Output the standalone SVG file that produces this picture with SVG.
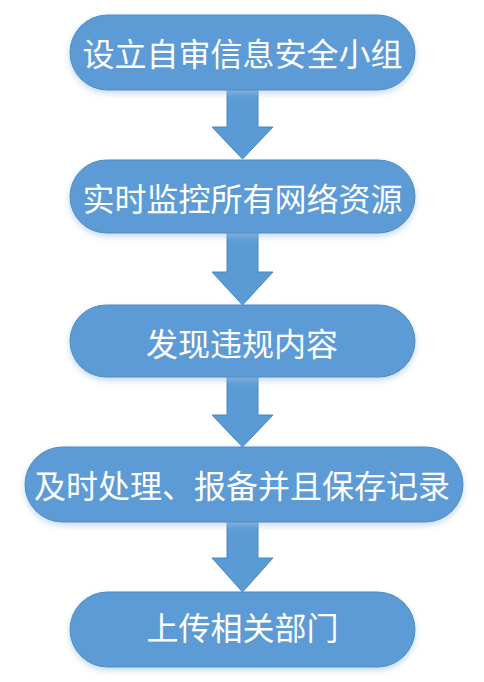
<svg xmlns="http://www.w3.org/2000/svg" width="484" height="682" viewBox="0 0 484 682">
<defs>
<style>
.box{fill:#5b9bd5;stroke:#4f8bc4;stroke-width:1}
.arr{fill:#5b9bd5;stroke:#4a86bd;stroke-width:1}
.t{font-family:"Noto Sans CJK SC","Noto Sans",sans-serif;font-size:32px;fill:#ffffff;text-anchor:middle;dominant-baseline:central}
</style>
<filter id="sh" x="-10%" y="-20%" width="120%" height="150%">
<feGaussianBlur in="SourceAlpha" stdDeviation="3"/>
<feOffset dx="0" dy="3" result="b"/>
<feFlood flood-color="#9dc3e6" flood-opacity="0.6"/>
<feComposite in2="b" operator="in"/>
<feMerge><feMergeNode/><feMergeNode in="SourceGraphic"/></feMerge>
</filter>
</defs>
<rect width="484" height="682" fill="#ffffff"/>
<g id="connectors">
<path class="arr" d="M227,90 H258 V127 H273 L242.5,159 L212,127 H227 Z"/>
<path class="arr" d="M227,233 H258 V272 H273 L242.5,305 L212,272 H227 Z"/>
<path class="arr" d="M227,377 H258 V415 H273 L242.5,447 L212,415 H227 Z"/>
<path class="arr" d="M227,522 H258 V558 H273 L242.5,592 L212,558 H227 Z"/>
</g>
<g id="n1"><rect class="box" filter="url(#sh)" x="70" y="15" width="345" height="75" rx="37.5"/><text class="t" x="242.5" y="52">设立自审信息安全小组</text></g>
<g id="n2"><rect class="box" filter="url(#sh)" x="70" y="160" width="345" height="73" rx="36.5"/><text class="t" x="242.5" y="197">实时监控所有网络资源</text></g>
<g id="n3"><rect class="box" filter="url(#sh)" x="70" y="305" width="345" height="72" rx="36"/><text class="t" x="242" y="342">发现违规内容</text></g>
<g id="n4"><rect class="box" filter="url(#sh)" x="25" y="447" width="438" height="75" rx="37.5"/><text class="t" x="242" y="484">及时处理、报备并且保存记录</text></g>
<g id="n5"><rect class="box" filter="url(#sh)" x="70" y="592" width="345" height="75" rx="37.5"/><text class="t" x="242.5" y="626">上传相关部门</text></g>
</svg>
